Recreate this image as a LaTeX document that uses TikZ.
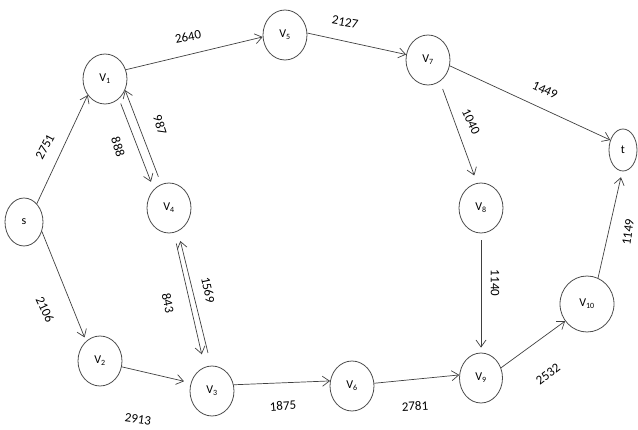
\documentclass[tikz,border=0pt]{standalone}
\usepackage{fontspec}
\setmainfont{Carlito}
\usetikzlibrary{shapes.geometric,arrows.meta}
\begin{document}
\begin{tikzpicture}[x=1pt,y=-1pt,
  vert/.style={ellipse,draw=black!70,line width=0.8pt,minimum width=44pt,minimum height=50pt,inner sep=0pt,font=\fontsize{12}{14}\selectfont},
  edge/.style={draw=black!75,line width=0.7pt,-{Straight Barb[length=7pt,width=10pt]}},
  wt/.style={font=\fontsize{13}{15}\selectfont,inner sep=0pt}]
\useasboundingbox (0,0) rectangle (638,430);
% nodes
\node[vert,minimum width=38pt,minimum height=48pt] (s) at (24,222) {s};
\node[vert] (V1) at (105,79) {V\textsubscript{1}};
\node[vert] (V5) at (285,35) {V\textsubscript{5}};
\node[vert] (V7) at (428,60) {V\textsubscript{7}};
\node[vert,minimum width=28pt,minimum height=42pt] (t) at (623,150) {t};
\node[vert] (V8) at (481,208) {V\textsubscript{8}};
\node[vert] (V4) at (169,208) {V\textsubscript{4}};
\node[vert] (V2) at (100,361) {V\textsubscript{2}};
\node[vert] (V3) at (212,391) {V\textsubscript{3}};
\node[vert] (V6) at (352,386) {V\textsubscript{6}};
\node[vert,minimum width=43pt] (V9) at (481,378) {V\textsubscript{9}};
\node[vert,minimum width=54pt,minimum height=56pt] (V10) at (587,304) {V\textsubscript{10}};
% edges
\draw[edge] (s.55) -- (V1.223);
\draw[edge,shorten >=4pt] (s.-28) -- (V2.125);
\draw[edge] (V1.24) -- (V5.185);
\draw[edge,shorten <=5pt,shorten >=8pt] (V1.-55) -- (V4.129);
\draw[edge,shorten <=8pt] (V4.108) -- (V1.-29);
\draw[edge] (V5.5) -- (V7.166);
\draw[edge] (V7.-15) -- (t.142);
\draw[edge,shorten <=8pt,shorten >=8pt] (V7.-61) -- (V8.99);
\draw[edge,shorten <=7pt,shorten >=5pt] (V8.south) -- (V9.north);
\draw[edge,shorten <=11pt,shorten >=13pt] (V4.-79) -- (V3.107);
\draw[edge,shorten <=13pt,shorten >=10pt] (V3.92) -- (V4.-69);
\draw[edge,shorten >=7pt] (V2.-15) -- (V3.159);
\draw[edge] (V3.16) -- (V6.167);
\draw[edge] (V6.7) -- (V9.172);
\draw[edge] (V9.27) -- (V10.218);
\draw[edge,shorten >=6pt] (V10.67) -- (t.268);
% weights
\node[wt,rotate=12] (w1) at (188,37) {2640};
\node[wt,rotate=-10] (w2) at (345,22) {2127};
\node[wt,rotate=-25] (w3) at (545,90) {1449};
\node[wt,rotate=-65] (w4) at (471,122) {1040};
\node[wt,rotate=62] (w5) at (45,147) {2751};
\node[wt,rotate=-72] (w6) at (118,147) {888};
\node[wt,rotate=-72] (w7) at (160,125) {987};
\node[wt,rotate=-65] (w8) at (45,310) {2106};
\node[wt,rotate=-78] (w9) at (168,303) {843};
\node[wt,rotate=-78] (w10) at (208,290) {1569};
\node[wt,rotate=-8] (w11) at (138,419) {2913};
\node[wt,rotate=4] (w12) at (283,406) {1875};
\node[wt,rotate=3] (w13) at (415,406) {2781};
\node[wt,rotate=-90] (w14) at (495,283) {1140};
\node[wt,rotate=37] (w15) at (548,374) {2532};
\node[wt,rotate=82] (w16) at (628,232) {1149};
\end{tikzpicture}
\end{document}
